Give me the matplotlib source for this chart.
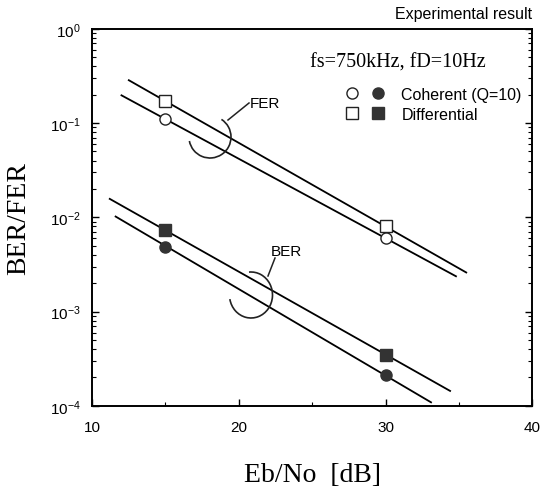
import matplotlib.pyplot as plt
from matplotlib.patches import Arc
from matplotlib.lines import Line2D
from matplotlib.transforms import IdentityTransform
from matplotlib.legend_handler import HandlerTuple
from matplotlib.ticker import LogLocator, MultipleLocator, FixedLocator

# measured points (Eb/No in dB)
ebno = [15, 30]
fer_coh = [0.110, 0.0060]
fer_diff = [0.171, 0.0080]
ber_coh = [0.0049, 0.00021]
ber_diff = [0.0073, 0.00035]

# straight-line fits, endpoints
fer_coh_fit_x = [12.0, 34.8]
fer_coh_fit_y = [0.197, 0.00237]
fer_diff_fit_x = [12.5, 35.5]
fer_diff_fit_y = [0.285, 0.0026]
ber_coh_fit_x = [11.6, 33.1]
ber_coh_fit_y = [0.0102, 1.09e-4]
ber_diff_fit_x = [11.2, 34.4]
ber_diff_fit_y = [0.0157, 1.44e-4]

x_ticks = [10, 20, 30, 40]

serif = ['Liberation Serif', 'DejaVu Serif']
sans = ['Liberation Sans', 'DejaVu Sans']
plt.rcParams['font.family'] = sans
plt.rcParams['mathtext.fontset'] = 'custom'
plt.rcParams['mathtext.rm'] = 'Liberation Sans'

fig = plt.figure(figsize=(5.42, 4.89), dpi=100)
ax = fig.add_axes([0.170, 0.168, 0.812, 0.771])

# fit lines
for fx, fy in [(fer_coh_fit_x, fer_coh_fit_y), (fer_diff_fit_x, fer_diff_fit_y),
               (ber_coh_fit_x, ber_coh_fit_y), (ber_diff_fit_x, ber_diff_fit_y)]:
    ax.plot(fx, fy, color='black', lw=1.3, zorder=2)

# markers: open = FER, filled = BER
h_fc, = ax.plot(ebno, fer_coh, 'o', ms=8, mfc='white', mec='#222222', mew=1.0, zorder=3)
h_fd, = ax.plot(ebno, fer_diff, 's', ms=8, mfc='white', mec='#222222', mew=1.0, zorder=3)
h_bc, = ax.plot(ebno, ber_coh, 'o', ms=8, mfc='#333333', mec='#333333', zorder=3)
h_bd, = ax.plot(ebno, ber_diff, 's', ms=8, mfc='#333333', mec='#333333', zorder=3)

ax.set_yscale('log')
ax.set_xlim(10, 40)
ax.set_ylim(1e-4, 1)
ax.xaxis.set_major_locator(FixedLocator(x_ticks))
ax.xaxis.set_minor_locator(MultipleLocator(5))
ax.yaxis.set_major_locator(LogLocator(base=10, numticks=10))
ax.yaxis.set_minor_locator(LogLocator(base=10, subs=range(2, 10), numticks=20))
ax.tick_params(which='both', direction='in', right=True, top=False, labelsize=11)
ax.tick_params(which='major', length=5, width=1.0, pad=8)
ax.tick_params(which='minor', length=3, width=0.8)
ax.tick_params(axis='x', which='major', pad=10)
for s in ax.spines.values():
    s.set_linewidth(1.4)

ax.set_xlabel('Eb/No  [dB]', family=serif, fontsize=20, labelpad=20)
ax.set_ylabel('BER/FER', family=serif, fontsize=20, labelpad=14)

fig.text(532 / 542, 1 - 15 / 489, 'Experimental result', ha='right', va='center', fontsize=11.5)
fig.text(310 / 542, 1 - 63 / 489, 'fs=750kHz, fD=10Hz', family=serif, ha='left', va='center', fontsize=14.5)

ax.legend([(h_fc, h_bc), (h_fd, h_bd)], ['Coherent (Q=10)', 'Differential'],
          handler_map={tuple: HandlerTuple(ndivide=None, pad=0.6)},
          loc='upper left', bbox_to_anchor=(336 / 542, 1 - 80 / 489),
          bbox_transform=fig.transFigure, frameon=False, fontsize=11.5,
          handlelength=2.6, handletextpad=1.0, labelspacing=0.3, borderpad=0)

# bracket arcs and labels (figure pixel coords)
H = 489
fig.add_artist(Arc((210, H - 138), 42, 42, theta1=191, theta2=417,
                   transform=IdentityTransform(), color='#222222', lw=1.2))
fig.add_artist(Line2D([228, 249], [H - 121, H - 104], transform=IdentityTransform(),
                      color='#222222', lw=1.1))
fig.text(250 / 542, 1 - 104 / 489, 'FER', ha='left', va='center', fontsize=11)

fig.add_artist(Arc((251, H - 296), 43, 46, theta1=191, theta2=455,
                   transform=IdentityTransform(), color='#222222', lw=1.2))
fig.add_artist(Line2D([268, 275], [H - 277, H - 259], transform=IdentityTransform(),
                      color='#222222', lw=1.1))
fig.text(271 / 542, 1 - 252 / 489, 'BER', ha='left', va='center', fontsize=11)

fig.savefig('out.png', dpi=100)
